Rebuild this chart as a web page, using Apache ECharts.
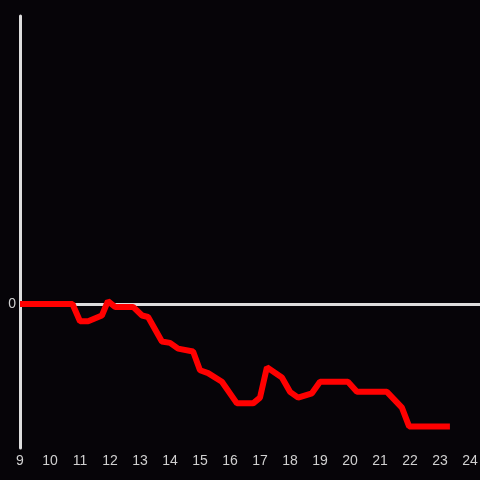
<!DOCTYPE html>
<html>
<head>
<meta charset="utf-8">
<script src="https://cdn.jsdelivr.net/npm/echarts@6/dist/echarts.min.js"></script>
<style>
  html, body { margin: 0; padding: 0; background: #060408; overflow: hidden; }
  #chart { width: 480px; height: 480px; }
</style>
</head>
<body>
<div id="chart"></div>
<script>
// hour of day
var hours = [9.0, 10.75, 11.0, 11.27, 11.73, 11.93, 12.17, 12.77, 13.07, 13.27, 13.73, 14.0, 14.27, 14.77,
  15.0, 15.27, 15.73, 16.23, 16.77, 17.0, 17.23, 17.73, 18.0, 18.27, 18.73, 19.0, 19.93, 20.23,
  21.23, 21.73, 21.97, 23.33];
var values = [0, 0, -0.12, -0.12, -0.08, 0.02, -0.02, -0.02, -0.08, -0.09, -0.26, -0.27, -0.31, -0.33,
  -0.46, -0.48, -0.54, -0.69, -0.69, -0.65, -0.44, -0.51, -0.61, -0.65, -0.62, -0.54, -0.54, -0.61,
  -0.61, -0.72, -0.85, -0.85];

var points = hours.map(function (h, i) { return [h, values[i]]; });

var chart = echarts.init(document.getElementById('chart'));
chart.setOption({
  backgroundColor: '#060408',
  animation: false,
  grid: { left: 20, right: 0, top: 16, bottom: 32, containLabel: false, outerBoundsMode: 'none' },
  xAxis: {
    type: 'value',
    min: 9,
    max: 24.333,
    interval: 1,
    axisLine: { show: false },
    axisTick: { show: false },
    splitLine: { show: false },
    axisLabel: {
      color: '#d0d0d0',
      fontSize: 14,
      margin: 6,
      formatter: function (v) { return Number.isInteger(v) ? String(v) : ''; }
    }
  },
  yAxis: {
    type: 'value',
    min: -1,
    max: 2,
    interval: 1,
    axisLine: { show: true, onZero: false, lineStyle: { color: '#dddddd', width: 3 } },
    axisTick: { show: false },
    splitLine: { show: false },
    axisLabel: {
      color: '#d0d0d0',
      fontSize: 14,
      margin: 4,
      formatter: function (v) { return v === 0 ? '0' : ''; }
    }
  },
  series: [{
    type: 'line',
    data: points,
    showSymbol: false,
    lineStyle: { color: '#ff0000', width: 6 },
    markLine: {
      silent: true,
      symbol: ['none', 'none'],
      label: { show: false },
      lineStyle: { color: '#dddddd', width: 3, type: 'solid' },
      data: [{ yAxis: 0 }],
      z: 1
    },
    z: 3
  }]
});
</script>
</body>
</html>
